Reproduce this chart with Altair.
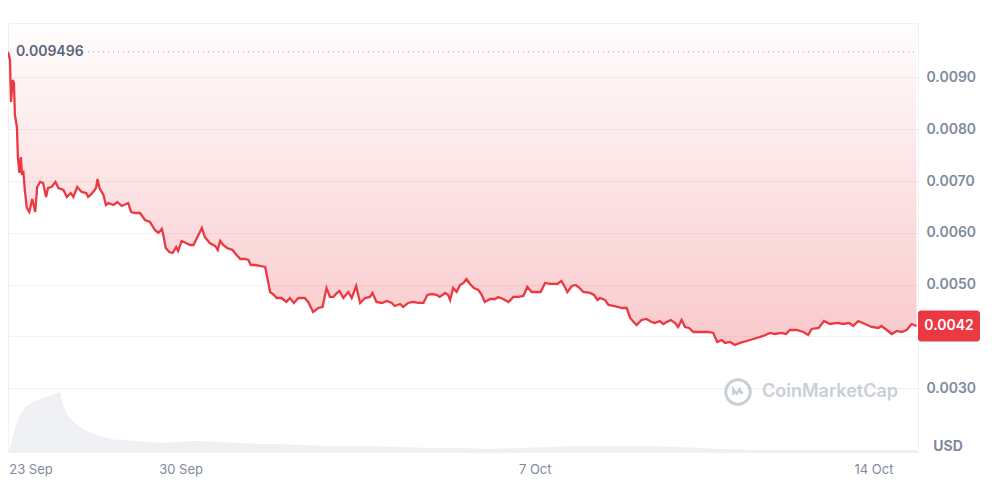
import altair as alt
import pandas as pd

# ---- price series (day offset from start, USD) ----
price_day = [0.00, 0.04, 0.06, 0.095, 0.12, 0.14, 0.18, 0.20, 0.23, 0.26, 0.28, 0.31, 0.34, 0.38, 0.43,
             0.49, 0.55, 0.59, 0.65, 0.71, 0.77, 0.81, 0.88, 0.96, 1.02, 1.12, 1.19, 1.27, 1.32, 1.40,
             1.49, 1.58, 1.62, 1.69, 1.78, 1.81, 1.85, 1.93, 1.98, 2.03, 2.13, 2.21, 2.30, 2.43, 2.49,
             2.57, 2.67, 2.77, 2.87, 2.97, 3.04, 3.11, 3.14, 3.19, 3.26, 3.33, 3.40, 3.44, 3.51, 3.60,
             3.68, 3.75, 3.82, 3.92, 3.98, 4.08, 4.19, 4.24, 4.29, 4.35, 4.43, 4.54, 4.62, 4.70, 4.79,
             4.86, 4.91, 4.99, 5.09, 5.20, 5.24, 5.30, 5.38, 5.43, 5.53, 5.63, 5.70, 5.78, 5.87, 6.00,
             6.07, 6.17, 6.27, 6.36, 6.44, 6.51, 6.58, 6.65, 6.70, 6.78, 6.88, 6.95, 7.04, 7.12, 7.22,
             7.32, 7.37, 7.45, 7.56, 7.66, 7.76, 7.82, 7.93, 7.99, 8.09, 8.19, 8.30, 8.40, 8.48, 8.57,
             8.67, 8.73, 8.84, 8.90, 8.94, 9.00, 9.07, 9.14, 9.21, 9.27, 9.34, 9.42, 9.51, 9.58, 9.64,
             9.75, 9.85, 9.91, 10.01, 10.12, 10.22, 10.32, 10.42, 10.50, 10.59, 10.68, 10.77, 10.86,
             10.96, 11.04, 11.11, 11.19, 11.26, 11.31, 11.40, 11.48, 11.56, 11.63, 11.77, 11.85, 11.92,
             11.97, 12.07, 12.14, 12.24, 12.34, 12.41, 12.51, 12.58, 12.65, 12.71, 12.81, 12.91, 13.01,
             13.08, 13.18, 13.25, 13.32, 13.40, 13.49, 13.55, 13.62, 13.69, 13.77, 13.86, 13.96, 14.06,
             14.16, 14.26, 14.34, 14.43, 14.50, 14.60, 14.70, 14.80, 14.94, 15.00, 15.14, 15.27, 15.41,
             15.51, 15.64, 15.73, 15.81, 15.95, 16.08, 16.18, 16.25, 16.39, 16.50, 16.62, 16.77, 16.89,
             17.01, 17.09, 17.19, 17.33, 17.46, 17.60, 17.66, 17.77, 17.87, 17.97, 18.07, 18.17, 18.27,
             18.37]
price_usd = [0.009496, 0.009338, 0.008527, 0.008952, 0.008894, 0.008276, 0.008044, 0.007465, 0.007156,
             0.007465, 0.007156, 0.007176, 0.006828, 0.006481, 0.006403, 0.006654, 0.006403, 0.006886,
             0.006983, 0.006963, 0.006693, 0.006867, 0.006886, 0.006983, 0.006867, 0.006828, 0.006693,
             0.006770, 0.006693, 0.006886, 0.006790, 0.006770, 0.006693, 0.006751, 0.006867, 0.007041,
             0.006867, 0.006732, 0.006539, 0.006577, 0.006539, 0.006597, 0.006519, 0.006577, 0.006403,
             0.006384, 0.006384, 0.006249, 0.006210, 0.006056, 0.005998, 0.006075, 0.005959, 0.005708,
             0.005631, 0.005612, 0.005728, 0.005651, 0.005844, 0.005805, 0.005766, 0.005766, 0.005902,
             0.006095, 0.005921, 0.005805, 0.005747, 0.005670, 0.005844, 0.005766, 0.005708, 0.005670,
             0.005573, 0.005496, 0.005496, 0.005477, 0.005380, 0.005380, 0.005361, 0.005342, 0.005149,
             0.004859, 0.004801, 0.004743, 0.004743, 0.004666, 0.004743, 0.004647, 0.004743, 0.004743,
             0.004666, 0.004473, 0.004550, 0.004569, 0.004936, 0.004763, 0.004763, 0.004840, 0.004878,
             0.004743, 0.004859, 0.004743, 0.004975, 0.004647, 0.004743, 0.004763, 0.004840, 0.004666,
             0.004647, 0.004685, 0.004647, 0.004589, 0.004627, 0.004569, 0.004647, 0.004666, 0.004647,
             0.004647, 0.004801, 0.004820, 0.004801, 0.004763, 0.004840, 0.004801, 0.004705, 0.004936,
             0.004859, 0.004994, 0.005033, 0.005110, 0.005014, 0.004936, 0.004898, 0.004801, 0.004666,
             0.004724, 0.004724, 0.004763, 0.004724, 0.004666, 0.004763, 0.004763, 0.004782, 0.004956,
             0.004859, 0.004859, 0.004859, 0.005033, 0.005014, 0.005014, 0.005014, 0.005071, 0.004956,
             0.004859, 0.004975, 0.004994, 0.004936, 0.004859, 0.004840, 0.004801, 0.004705, 0.004743,
             0.004705, 0.004608, 0.004589, 0.004569, 0.004550, 0.004550, 0.004357, 0.004280, 0.004222,
             0.004319, 0.004338, 0.004280, 0.004261, 0.004299, 0.004241, 0.004280, 0.004319, 0.004261,
             0.004183, 0.004319, 0.004183, 0.004164, 0.004087, 0.004087, 0.004087, 0.004087, 0.004068,
             0.003894, 0.003932, 0.003875, 0.003894, 0.003836, 0.003875, 0.003913, 0.003932, 0.003971,
             0.004010, 0.004068, 0.004048, 0.004068, 0.004048, 0.004125, 0.004125, 0.004087, 0.004029,
             0.004145, 0.004164, 0.004299, 0.004241, 0.004261, 0.004241, 0.004261, 0.004203, 0.004299,
             0.004241, 0.004183, 0.004164, 0.004203, 0.004125, 0.004048, 0.004106, 0.004087, 0.004125,
             0.004241, 0.004203]

# ---- volume (relative units) ----
vol_day = [0.02, 0.08, 0.16, 0.24, 0.34, 0.44, 0.55, 0.65, 0.75, 0.85, 0.95, 1.05, 1.11, 1.19, 1.29,
           1.42, 1.56, 1.70, 1.86, 2.06, 2.26, 2.57, 2.87, 3.17, 3.38, 3.68, 3.98, 4.29, 4.69, 5.10,
           5.50, 5.90, 6.51, 7.12, 7.93, 8.53, 9.14, 9.75, 10.35, 10.96, 11.56, 12.17, 12.78, 13.59,
           14.40, 15.20, 16.01, 16.82, 17.63, 18.38]
vol_rel = [0, 12, 27, 37, 44, 48, 51, 53, 55, 56, 58, 60, 47, 38, 32, 26, 22, 19, 16, 13, 12, 11, 10,
           9, 10, 11, 11, 10, 9, 8, 8, 7, 6, 6, 5, 4, 4, 3, 4, 5, 6, 6, 6, 5, 3, 2, 2, 2, 2, 2]

tick_day = [0.465, 3.50, 10.66, 17.51]
tick_label = ["23 Sep", "30 Sep", "7 Oct", "14 Oct"]
y_ticks = [0.003, 0.004, 0.005, 0.006, 0.007, 0.008, 0.009]
y_min, y_max = 0.00177, 0.010052
peak_price = 0.009496
peak_label = "0.009496"
last_label = "0.0042"
currency = "USD"
brand = "CoinMarketCap"

RED = "#ea3943"
GREY = "#808a9d"
FONT = "Inter"

price_df = pd.DataFrame({"day": price_day, "price": price_usd})
vol_df = pd.DataFrame({"day": vol_day, "vol": vol_rel})
tick_df = pd.DataFrame({"day": tick_day, "label": tick_label})
last_price = price_usd[-1]

xs = alt.Scale(domain=[0, 18.4], nice=False, zero=False)
ys = alt.Scale(domain=[y_min, y_max], nice=False, zero=False)
# the 0.0040 label sits under the current-price box, as in the reference
yaxis = alt.Axis(orient="right", values=y_ticks, format=".4f", grid=True, gridColor="#eff2f5",
                 domainColor="#eff2f5", ticks=False, tickSize=0, labelPadding=8, labelFont=FONT,
                 labelFontSize=14, labelFontWeight=600, labelColor=GREY, title=None,
                 labelExpr="datum.value == 0.004 ? '' : datum.label")
X = alt.X("day:Q", scale=xs, axis=None)

gradient = {"gradient": "linear", "x1": 0, "y1": 0, "x2": 0, "y2": 1,
            "stops": [{"offset": 0, "color": "rgba(234,57,67,0.01)"},
                      {"offset": 1, "color": "rgba(234,57,67,0.27)"}]}

area = alt.Chart(price_df).mark_area(color=gradient, clip=True).encode(
    x=X, y=alt.Y("price:Q", scale=ys, axis=yaxis), y2=alt.datum(y_max))
line = alt.Chart(price_df).mark_line(color=RED, strokeWidth=2.3, clip=True).encode(
    x=X, y=alt.Y("price:Q", scale=ys, axis=yaxis))

peak_df = pd.DataFrame({"price": [peak_price], "label": [peak_label]})
peak_rule = alt.Chart(peak_df).mark_rule(color="#9aa2b1", strokeDash=[1, 4], strokeWidth=1).encode(
    x=alt.value(80), x2=alt.value(910), y=alt.Y("price:Q", scale=ys, axis=yaxis))
peak_text = alt.Chart(peak_df).mark_text(align="left", baseline="middle", font=FONT, fontSize=14,
                                         fontWeight=600, color="#58667e").encode(
    x=alt.value(8), y=alt.Y("price:Q", scale=ys, axis=yaxis), text="label:N")

box_df = pd.DataFrame({"price": [last_price + 0.0003], "bot": [last_price - 0.0003],
                       "mid": [last_price], "label": [last_label]})
box = alt.Chart(box_df).mark_rect(color=RED, cornerRadius=3).encode(
    x=alt.value(910), x2=alt.value(972), y=alt.Y("price:Q", scale=ys, axis=yaxis), y2="bot:Q")
box_text = alt.Chart(box_df).mark_text(align="center", baseline="middle", font=FONT, fontSize=14,
                                       fontWeight=600, color="white").encode(
    x=alt.value(941), y=alt.Y("mid:Q", scale=ys, axis=yaxis), text="label:N")

xlabels = alt.Chart(tick_df).mark_text(align="center", baseline="middle", font=FONT, fontSize=13,
                                       color=GREY).encode(
    x=alt.X("day:Q", scale=xs, axis=None), y=alt.value(447), text="label:N")

misc_df = pd.DataFrame({"cur": [currency], "brand": [brand]})
usd = alt.Chart(misc_df).mark_text(align="center", baseline="middle", font=FONT, fontSize=14,
                                   fontWeight="bold", color=GREY).encode(
    x=alt.value(940), y=alt.value(424), text="cur:N")
wm_text = alt.Chart(misc_df).mark_text(align="left", baseline="middle", font=FONT, fontSize=18,
                                       fontWeight=600, color="#c9ced7").encode(
    x=alt.value(754), y=alt.value(369), text="brand:N")
wm_ring = alt.Chart(misc_df).mark_point(shape="circle", filled=False, size=600, strokeWidth=3,
                                        color="#c9ced7", opacity=1).encode(
    x=alt.value(730), y=alt.value(369))
wm_m = alt.Chart(misc_df).mark_point(
    shape="M -0.55 0.35 L -0.55 -0.3 L -0.15 0.2 L 0.2 -0.3 L 0.35 0.1 L 0.6 0.05",
    filled=False, size=300, strokeWidth=2.5, color="#c9ced7", opacity=1).encode(
    x=alt.value(730), y=alt.value(369))

volume = alt.Chart(vol_df).mark_area(color="#eef0f4").encode(
    x=X, y=alt.Y("vol:Q", scale=alt.Scale(domain=[0, 429], nice=False), axis=None))

price_layers = alt.layer(area, line, peak_rule, peak_text, wm_ring, wm_m, wm_text, box, box_text,
                         xlabels, usd)

chart = alt.layer(volume, price_layers).resolve_scale(y="independent").properties(
    width=910, height=429, padding={"left": 0, "top": 15, "right": 5, "bottom": 5}
).configure_view(stroke="#eff2f5", strokeWidth=1)

chart.save("out.html", embed_options={"renderer": "svg", "actions": False})
